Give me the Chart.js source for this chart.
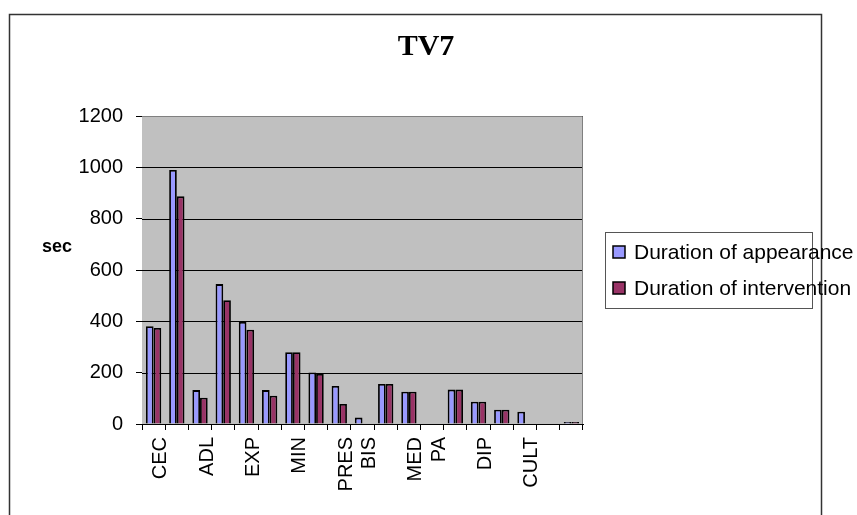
<!DOCTYPE html>
<html>
<head>
<meta charset="utf-8">
<script src="https://cdn.jsdelivr.net/npm/chart.js@4.4.1/dist/chart.umd.min.js"></script>
<style>
  body { margin: 0; background: #fff; }
</style>
</head>
<body>
<canvas id="tvChart" width="857" height="515"></canvas>
<script>
var categories = ['CEC', '', 'ADL', '', 'EXP', '', 'MIN', '', 'PRES', 'BIS', '', 'MED', 'PA', '', 'DIP', '', 'CULT', '', ''];
var appearance = [381, 990, 132, 545, 398, 132, 280, 201, 148, 25, 156, 126, 0, 134, 87, 56, 48, 0, 8];
var intervention = [374, 887, 102, 482, 367, 110, 280, 195, 78, 0, 156, 126, 0, 134, 87, 56, 0, 0, 8];
var seriesNames = ['Duration of appearance', 'Duration of intervention'];
var yTicks = [0, 200, 400, 600, 800, 1000, 1200];

// plot background, frame, title, axis caption and boxed legend
var decor = {
  id: 'decor',
  beforeDatasetsDraw: function(chart) {
    var ctx = chart.ctx, a = chart.chartArea;
    ctx.save();
    ctx.fillStyle = '#c0c0c0';
    ctx.fillRect(a.left, a.top, a.right - a.left, a.bottom - a.top);
    // grid lines go on top of the fill
    var y = chart.scales.y;
    ctx.strokeStyle = '#000';
    ctx.lineWidth = 1;
    yTicks.forEach(function(v) {
      var py = Math.round(y.getPixelForValue(v)) + 0.5;
      ctx.beginPath();
      ctx.moveTo(a.left, py);
      ctx.lineTo(a.right, py);
      ctx.stroke();
    });
    ctx.strokeStyle = '#808080';
    ctx.beginPath();
    ctx.moveTo(a.left, a.top + 0.5);
    ctx.lineTo(a.right - 0.5, a.top + 0.5);
    ctx.lineTo(a.right - 0.5, a.bottom);
    ctx.stroke();
    ctx.restore();
  },
  afterDraw: function(chart) {
    var ctx = chart.ctx;
    ctx.save();
    ctx.strokeStyle = '#333';
    ctx.lineWidth = 1.5;
    ctx.strokeRect(9.5, 14.5, 812, 600);

    ctx.fillStyle = '#000';
    ctx.textAlign = 'center';
    ctx.textBaseline = 'middle';
    ctx.font = 'bold 30px "Liberation Serif", serif';
    ctx.fillText('TV7', 426, 47);

    ctx.textAlign = 'left';
    ctx.font = 'bold 18px "Liberation Sans", Arial, sans-serif';
    ctx.fillText('sec', 42, 247);

    ctx.strokeStyle = '#555';
    ctx.lineWidth = 1;
    ctx.strokeRect(605.5, 232.5, 207, 76);
    ctx.font = '21px "Liberation Sans", Arial, sans-serif';
    chart.data.datasets.forEach(function(ds, i) {
      var cy = 252 + i * 36;
      ctx.fillStyle = ds.backgroundColor;
      ctx.fillRect(613, cy - 6, 12, 12);
      ctx.strokeStyle = '#000';
      ctx.lineWidth = 1.5;
      ctx.strokeRect(613, cy - 6, 12, 12);
      ctx.fillStyle = '#000';
      ctx.fillText(ds.label, 634, cy + 1);
    });
    ctx.restore();
  }
};

new Chart(document.getElementById('tvChart'), {
  type: 'bar',
  data: {
    labels: categories,
    datasets: [{
        label: seriesNames[0],
        data: appearance,
        backgroundColor: '#9999ff',
        borderColor: '#000',
        borderWidth: 1.8,
        categoryPercentage: 0.66,
        barPercentage: 1
      }, {
        label: seriesNames[1],
        data: intervention,
        backgroundColor: '#993366',
        borderColor: '#000',
        borderWidth: 1.8,
        categoryPercentage: 0.66,
        barPercentage: 1
      }
    ]
  },
  options: {
    responsive: false,
    animation: false,
    layout: {
      padding: { top: 116, right: 274, left: 0, bottom: 0 }
    },
    plugins: {
      legend: { display: false },
      title: { display: false },
      tooltip: { enabled: false }
    },
    scales: {
      x: {
        afterFit: function(scale) { scale.height = 91; },
        grid: { drawOnChartArea: false, color: '#000', tickLength: 6 },
        border: { color: '#000' },
        ticks: {
          autoSkip: false,
          minRotation: 90,
          maxRotation: 90,
          padding: 7,
          labelOffset: 7,
          color: '#000',
          font: { family: '"Liberation Sans", Arial, sans-serif', size: 20 }
        }
      },
      y: {
        min: 0,
        max: 1200,
        afterFit: function(scale) { scale.width = 142; },
        afterBuildTicks: function(scale) {
          scale.ticks = yTicks.map(function(v) { return { value: v }; });
        },
        grid: { color: '#000', tickLength: 6, drawOnChartArea: false },
        border: { color: '#000' },
        ticks: {
          padding: 13,
          color: '#000',
          callback: function(v) { return String(v); },
          font: { family: '"Liberation Sans", Arial, sans-serif', size: 20 }
        }
      }
    }
  },
  plugins: [decor]
});
</script>
</body>
</html>
